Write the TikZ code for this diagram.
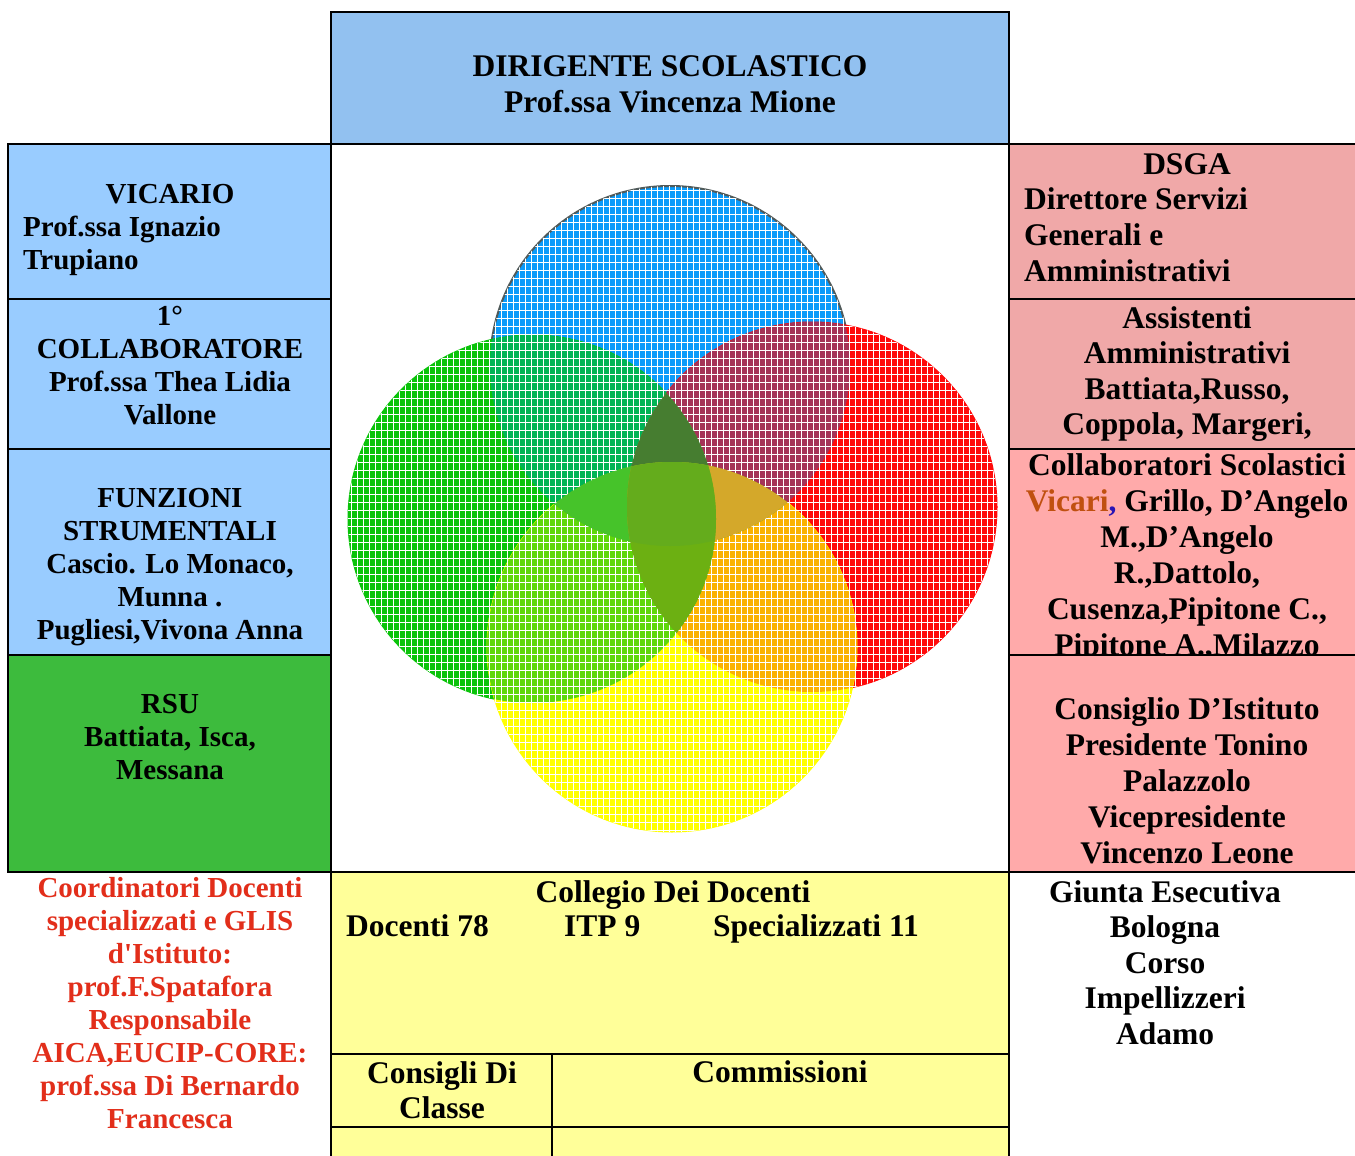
\documentclass[tikz,border=0pt]{standalone}
\usepackage{fontspec}
\setmainfont{Liberation Serif}
% circle outlines of the four-petal emblem (pixel-like units, y grows downward)
\newcommand\ringB{(670,366) circle[radius=180pt]}
\newcommand\ringR{(812,507) circle[radius=185pt]}
\newcommand\ringG{(532,519) circle[radius=184pt]}
\newcommand\ringY{(672,647) circle[radius=185pt]}
% stacked lines, baseline of the first line on the node's base anchor
\newcommand\cellstack[2][c]{\begin{tabular}[t]{@{}#1@{}}#2\end{tabular}}
% overlap helpers
\newcommand\lens[3]{\begin{scope}\clip #1;\fill[#3] #2;\end{scope}}
\newcommand\tri[4]{\begin{scope}\clip #1;\clip #2;\fill[#4] #3;\end{scope}}

\definecolor{headblue}{RGB}{146,193,240}
\definecolor{cellblue}{RGB}{153,204,255}
\definecolor{rsugreen}{RGB}{61,187,61}
\definecolor{rosedark}{RGB}{240,168,168}
\definecolor{roselight}{RGB}{255,170,170}
\definecolor{paleyellow}{RGB}{255,255,153}
\definecolor{textred}{RGB}{226,46,26}
\definecolor{vicaribrown}{RGB}{192,80,16}
\definecolor{commablue}{RGB}{40,20,180}

\definecolor{cB}{RGB}{10,155,250}
\definecolor{cR}{RGB}{255,10,10}
\definecolor{cG}{RGB}{10,195,10}
\definecolor{cY}{RGB}{255,255,0}
\definecolor{cBG}{RGB}{0,180,85}
\definecolor{cBR}{RGB}{165,52,88}
\definecolor{cRY}{RGB}{250,178,0}
\definecolor{cGY}{RGB}{95,215,10}
\definecolor{cBGR}{RGB}{70,125,48}
\definecolor{cBGY}{RGB}{70,195,42}
\definecolor{cBRY}{RGB}{212,168,42}
\definecolor{cGRY}{RGB}{108,176,18}
\definecolor{cBGRY}{RGB}{100,172,28}
\definecolor{rimgray}{RGB}{80,90,90}

\begin{document}
\begin{tikzpicture}[x=1pt,y=-1pt,
  rule/.style={line width=2.4pt,line cap=rect},
  big/.style={inner sep=0pt,anchor=base,font=\fontsize{31.5}{36}\selectfont\bfseries},
  small/.style={inner sep=0pt,anchor=base,font=\fontsize{29}{33}\selectfont\bfseries},
  screen/.style={white,line width=1pt}]
\useasboundingbox (0,0) rectangle (1355,1156);
\fill[white] (0,0) rectangle (1355,1156);

% ---- cell backgrounds ----
\fill[headblue] (331,12) rectangle (1009,144);
\fill[cellblue] (8,144) rectangle (331,655);
\fill[rsugreen] (8,655) rectangle (331,872);
\fill[rosedark] (1009,144) rectangle (1355,449);
\fill[roselight] (1009,449) rectangle (1355,872);
\fill[paleyellow] (331,872) rectangle (1009,1156);

% ---- emblem: four overlapping discs ----
\fill[cB] \ringB; \draw[rimgray,line width=2pt] \ringB;
\fill[cR] \ringR; \draw[cR,line width=1pt] \ringR;
\fill[cG] \ringG; \draw[cG,line width=1pt] \ringG;
\fill[cY] \ringY; \draw[cY,line width=1pt] \ringY;
\lens{\ringB}{\ringG}{cBG}
\lens{\ringB}{\ringR}{cBR}
\lens{\ringR}{\ringY}{cRY}
\lens{\ringG}{\ringY}{cGY}
\lens{\ringB}{\ringY}{cBGRY}
\lens{\ringG}{\ringR}{cBGRY}
% white screen texture over the discs, one pixel wide
\begin{scope}
  \clip \ringB \ringR \ringG \ringY;
  \foreach \x in {345.5,351.5,...,1000} \draw[screen] (\x,180) -- (\x,840);
  \foreach \y in {182.5,190.5,...,840} \draw[screen] (340,\y) -- (1002,\y);
\end{scope}
\tri{\ringB}{\ringG}{\ringR}{cBGR}
\tri{\ringB}{\ringG}{\ringY}{cBGY}
\tri{\ringB}{\ringR}{\ringY}{cBRY}
\tri{\ringG}{\ringR}{\ringY}{cGRY}
\begin{scope}\clip \ringB;\clip \ringG;\clip \ringR;\fill[cBGRY] \ringY;\end{scope}

% ---- grid rules ----
\draw[rule] (331,12) rectangle (1009,144);
\draw[rule] (8,144) -- (1355,144);
\draw[rule] (8,872) -- (1355,872);
\draw[rule] (8,144) -- (8,872);
\draw[rule] (331,144) -- (331,1156);
\draw[rule] (1009,144) -- (1009,1156);
\foreach \y in {299,449,655} {
  \draw[rule] (8,\y) -- (331,\y);
  \draw[rule] (1009,\y) -- (1355,\y);
}
\draw[rule] (331,1054) -- (1009,1054);
\draw[rule] (331,1127) -- (1009,1127);
\draw[rule] (552,1054) -- (552,1156);

% ---- texts ----
\node[big] (dir) at (670,77) {\cellstack{DIRIGENTE SCOLASTICO\\Prof.ssa Vincenza Mione}};

\node[small] (vic) at (170,203) {VICARIO};
\node[small,anchor=base west] (vicname) at (23,236) {\cellstack[l]{Prof.ssa Ignazio\\Trupiano}};
\node[small] (coll) at (170,325) {\cellstack{1°\\COLLABORATORE\\Prof.ssa Thea Lidia\\Vallone}};
\node[small] (fs) at (170,507) {\cellstack{FUNZIONI\\STRUMENTALI\\Cascio. Lo Monaco,\\Munna .\\Pugliesi,Vivona Anna}};
\node[small] (rsu) at (170,713) {\cellstack{RSU\\Battiata, Isca,\\Messana}};
\node[small,text=textred] (coord) at (170,897) {\cellstack{Coordinatori Docenti\\specializzati e GLIS\\d\textquotesingle Istituto:\\prof.F.Spatafora\\Responsabile\\AICA,EUCIP-CORE:\\prof.ssa Di Bernardo\\Francesca}};

\node[big] (dsga) at (1187,174) {DSGA};
\node[big,anchor=base west] (dsganame) at (1024,209) {\cellstack[l]{Direttore Servizi\\Generali e\\Amministrativi}};
\node[big,font=\fontsize{31.5}{35.5}\selectfont\bfseries] (asst) at (1187,328) {\cellstack{Assistenti\\Amministrativi\\Battiata,Russo,\\Coppola, Margeri,}};
\begin{scope}
  \clip (1009,449) rectangle (1355,654);
  \node[big,font=\fontsize{31.5}{36}\selectfont\bfseries] (colsc) at (1187,475) {\cellstack{Collaboratori Scolastici\\\textcolor{vicaribrown}{Vicari}\textcolor{commablue}{,} Grillo, D’Angelo\\M.,D’Angelo\\R.,Dattolo,\\Cusenza,Pipitone C.,\\Pipitone A.,Milazzo}};
\end{scope}
\node[big,font=\fontsize{31.5}{36.2}\selectfont\bfseries] (cdi) at (1187,719) {\cellstack{Consiglio D’Istituto\\Presidente Tonino\\Palazzolo\\Vicepresidente\\Vincenzo Leone}};
\node[big,font=\fontsize{31.5}{35.5}\selectfont\bfseries] (giunta) at (1165,902) {\cellstack{Giunta Esecutiva\\Bologna\\Corso\\Impellizzeri\\Adamo}};

\node[big] (colleg) at (673,902) {Collegio Dei Docenti};
\node[big,anchor=base west] (doc) at (346,936) {Docenti 78};
\node[big,anchor=base west] (itp) at (564,936) {ITP 9};
\node[big,anchor=base west] (spec) at (713,936) {Specializzati 11};
\node[big,font=\fontsize{31.5}{35}\selectfont\bfseries] (consigli) at (442,1083) {\cellstack{Consigli Di\\Classe}};
\node[big] (comm) at (780,1082) {Commissioni};
\end{tikzpicture}
\end{document}
